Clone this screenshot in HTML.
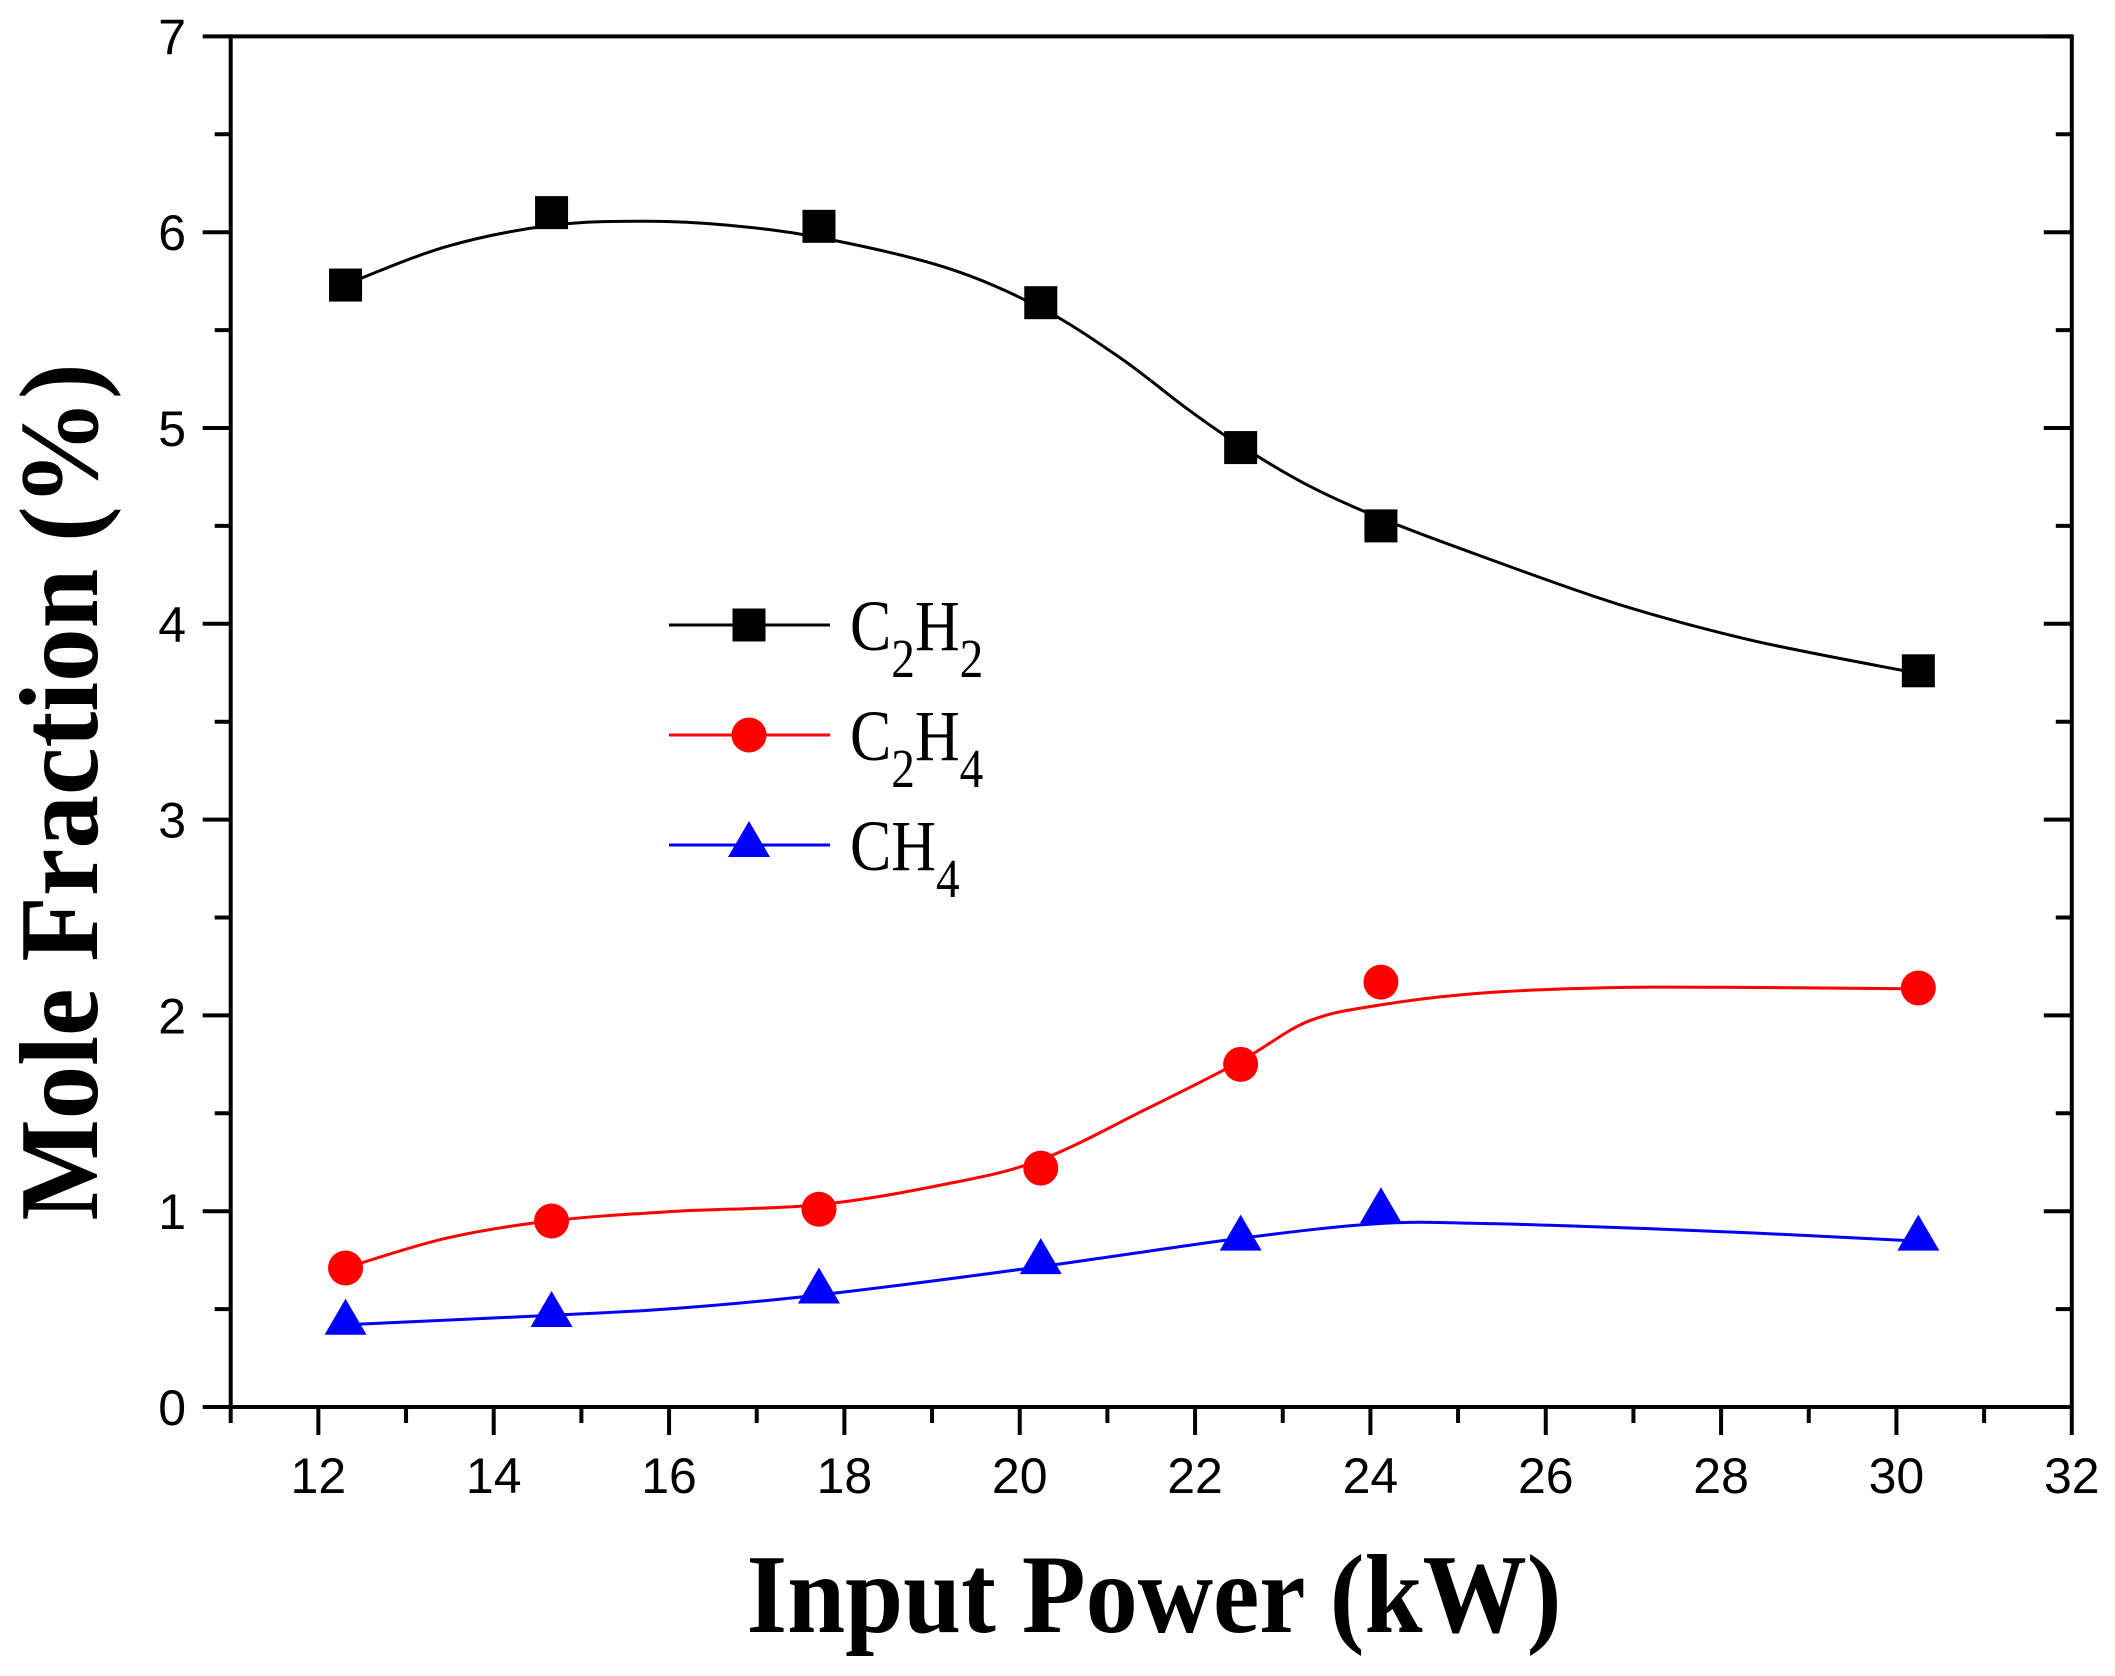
<!DOCTYPE html>
<html><head><meta charset="utf-8"><style>html,body{margin:0;padding:0;background:#fff}svg{display:block}</style></head>
<body>
<svg id="s" width="2115" height="1676" xmlns="http://www.w3.org/2000/svg">
<rect width="2115" height="1676" fill="#fff"/>
<g id="plot"></g>
<g font-family="Liberation Serif, serif" fill="#000">
  <text x="1154" y="1632" font-size="112" font-weight="bold" text-anchor="middle" textLength="815" lengthAdjust="spacingAndGlyphs">Input Power (kW)</text>
  <text transform="translate(97,792) rotate(-90)" font-size="112" font-weight="bold" text-anchor="middle" textLength="857" lengthAdjust="spacingAndGlyphs">Mole Fraction (%)</text>
</g>
<g font-family="Liberation Serif, serif" fill="#000">
  <g transform="translate(850,0) scale(0.86,1)">
    <text y="650" font-size="72">C<tspan font-size="55" dy="27">2</tspan><tspan dy="-27">H</tspan><tspan font-size="55" dy="27">2</tspan></text>
    <text y="760" font-size="72">C<tspan font-size="55" dy="27">2</tspan><tspan dy="-27">H</tspan><tspan font-size="55" dy="27">4</tspan></text>
    <text y="870" font-size="72">CH<tspan font-size="55" dy="27">4</tspan></text>
  </g>
</g>
</svg>
<script>
(function(){
var NS="http://www.w3.org/2000/svg",g=document.getElementById('plot');
function el(t,a,p){var e=document.createElementNS(NS,t);for(var k in a)e.setAttribute(k,a[k]);(p||g).appendChild(e);return e;}
var X0=230.7,XU=87.67,Y0=1407,YU=195.8,K=1.349;
function px(x){return X0+(x-11)*XU;} function py(y){return Y0-y*YU;}
var xs=[12.31,14.66,17.71,20.24,22.52,24.12,30.25];
var S=[
 {c:'#000',m:'sq',y:[5.73,6.10,6.03,5.64,4.90,4.50,3.76],
  cv:[[256,211],[330,183],[409,167],[480,164],[540,167],[607,176],[700,198],[771,228],[830,265],[880,303],[919,330],[970,360],[1023,384],[1100,413],[1200,448],[1300,475],[1421,499]]},
 {c:'#f00',m:'ci',y:[0.71,0.95,1.01,1.22,1.75,2.17,2.14],
  cv:[[256,940],[330,918],[409,905],[500,898],[607,893],[700,878],[771,860],[850,822],[919,787],[970,757],[1023,745],[1100,736],[1200,732],[1300,732],[1421,733]]},
 {c:'#00f',m:'tr',y:[0.43,0.47,0.59,0.74,0.86,1.0,0.86],
  cv:[[256,982],[409,975],[500,970],[607,960],[771,939],[919,918],[1023,907],[1100,907],[1200,910],[1300,914],[1421,920]]}];
function cr(p){var d='M'+p[0][0]+','+p[0][1];
 for(var i=0;i<p.length-1;i++){var a=p[i-1]||p[i],b=p[i],c=p[i+1],e=p[i+2]||c;
  d+='C'+(b[0]+(c[0]-a[0])/6).toFixed(1)+','+(b[1]+(c[1]-a[1])/6).toFixed(1)+' '+(c[0]-(e[0]-b[0])/6).toFixed(1)+','+(c[1]-(e[1]-b[1])/6).toFixed(1)+' '+c[0].toFixed(1)+','+c[1].toFixed(1);}
 return d;}
el('rect',{x:X0,y:py(7),width:px(32)-X0,height:Y0-py(7),fill:'none',stroke:'#000','stroke-width':4});
for(var v=11;v<=32;v++){var x=px(v),maj=(v%2==0);el('line',{x1:x,y1:Y0,x2:x,y2:Y0+(maj?28:16),stroke:'#000','stroke-width':4});
 if(maj){var t=el('text',{x:x,y:1493,'font-family':'Liberation Sans, sans-serif','font-size':50,'text-anchor':'middle'});t.textContent=v;}}
for(var k=0;k<=14;k++){var yv=k/2,y=py(yv),maj=(k%2==0),L=maj?28:16;
 el('line',{x1:X0,y1:y,x2:X0-L,y2:y,stroke:'#000','stroke-width':4});
 el('line',{x1:px(32),y1:y,x2:px(32)-L,y2:y,stroke:'#000','stroke-width':4});
 if(maj){var t=el('text',{x:186,y:y+18,'font-family':'Liberation Sans, sans-serif','font-size':50,'text-anchor':'end'});t.textContent=yv;}}
function mark(m,x,y,c){if(m=='sq')el('rect',{x:x-16.5,y:y-16.5,width:33,height:33,fill:c});
 else if(m=='ci')el('circle',{cx:x,cy:y,r:17.5,fill:c});
 else el('polygon',{points:(x-21)+','+(y+12)+' '+(x+21)+','+(y+12)+' '+x+','+(y-24),fill:c});}
S.forEach(function(s,i){
 var p=s.cv.map(function(q){return [q[0]*K,q[1]*K];});
 el('path',{d:cr(p),fill:'none',stroke:s.c,'stroke-width':3});
 xs.forEach(function(x,j){mark(s.m,px(x),py(s.y[j]),s.c);});
 var ly=625+i*110;el('line',{x1:669,y1:ly,x2:830,y2:ly,stroke:s.c,'stroke-width':3});mark(s.m,749,ly,s.c);});
})();
</script>
</body></html>
